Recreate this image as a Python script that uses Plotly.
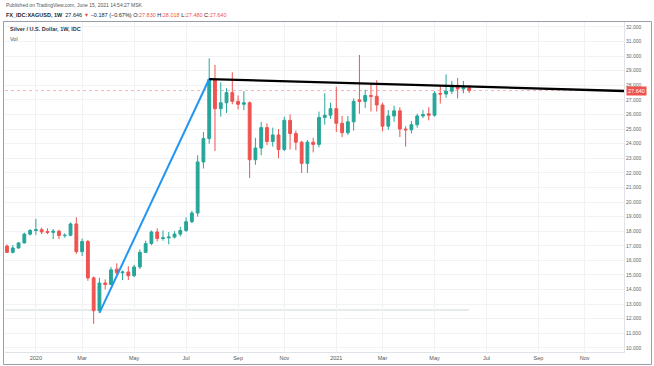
import plotly.graph_objects as go
import pandas as pd

# ---------------- data ----------------
week_start = "2019-12-02"
n_weeks = 81
opens = [16.98, 16.55, 16.85, 17.20, 17.80, 18.05, 18.10, 17.98, 17.92, 18.00, 17.70, 17.72, 18.50, 16.60, 17.30, 14.80,
         12.55, 14.45, 14.35, 15.40, 15.15, 15.20, 14.95, 15.55, 16.55, 17.15, 17.95, 17.50, 17.55, 17.60, 17.80, 18.05,
         18.65, 19.25, 22.75, 24.35, 28.40, 26.40, 26.80, 27.50, 26.90, 26.70, 26.80, 22.90, 23.70, 25.10, 24.15, 24.60,
         23.60, 25.60, 24.70, 24.10, 22.65, 24.10, 23.95, 25.80, 25.95, 26.40, 25.40, 24.75, 25.50, 27.00, 26.90, 27.30,
         27.25, 26.65, 25.20, 25.90, 26.25, 25.00, 24.95, 25.30, 25.90, 26.05, 25.95, 27.45, 27.40, 27.60, 28.00, 27.75,
         27.83]
highs = [17.10, 17.05, 17.25, 17.90, 18.15, 18.85, 18.25, 18.20, 18.15, 18.10, 17.85, 18.60, 18.95, 17.50, 17.40, 14.90,
         14.80, 14.70, 15.55, 15.80, 15.30, 15.60, 15.70, 16.75, 17.35, 18.05, 18.20, 18.05, 17.95, 18.00, 18.30, 18.95,
         19.40, 23.20, 24.80, 29.85, 29.40, 28.20, 27.80, 28.90, 27.30, 27.60, 26.90, 24.40, 25.50, 25.40, 25.10, 25.00,
         25.85, 26.00, 24.90, 24.20, 24.25, 24.40, 26.20, 27.45, 26.80, 27.90, 25.90, 25.90, 27.10, 30.08, 27.70, 28.15,
         28.35, 26.80, 26.30, 26.60, 26.50, 25.20, 25.55, 26.05, 26.30, 26.50, 27.60, 27.95, 28.75, 28.30, 28.50, 28.30,
         28.018]
lows = [16.50, 16.48, 16.80, 17.15, 17.70, 17.75, 17.80, 17.80, 17.45, 17.45, 17.55, 17.65, 16.45, 16.30, 14.60, 11.65,
        12.40, 14.00, 14.30, 15.00, 14.65, 14.65, 14.85, 15.40, 16.50, 17.05, 17.30, 17.35, 17.10, 17.50, 17.65, 17.95,
        18.55, 19.00, 22.30, 24.00, 23.50, 25.85, 26.10, 26.70, 26.35, 26.30, 21.65, 22.55, 23.20, 23.90, 23.80, 23.00,
        23.50, 23.60, 23.55, 22.00, 22.00, 23.40, 23.75, 25.30, 25.70, 24.80, 24.45, 24.60, 24.90, 26.05, 26.45, 26.20,
        26.20, 24.85, 24.95, 25.50, 24.45, 23.80, 24.70, 25.10, 25.75, 25.60, 25.85, 26.75, 27.15, 27.40, 27.10, 27.45,
        27.48]
closes = [16.55, 16.85, 17.20, 17.80, 18.05, 18.10, 17.95, 17.92, 18.00, 17.70, 17.72, 18.50, 16.60, 17.30, 14.80, 12.55,
          14.45, 14.35, 15.35, 15.15, 15.20, 14.95, 15.55, 16.55, 17.15, 17.95, 17.50, 17.55, 17.60, 17.80, 18.05, 18.65,
          19.25, 22.75, 24.35, 28.40, 26.40, 26.80, 27.50, 26.90, 26.70, 26.80, 22.90, 23.70, 25.10, 24.15, 24.60, 23.60,
          25.60, 24.70, 24.10, 22.65, 24.10, 23.95, 25.80, 25.95, 26.40, 25.40, 24.75, 25.50, 26.90, 26.90, 27.30, 27.25,
          26.65, 25.20, 25.90, 26.25, 25.00, 24.95, 25.30, 25.90, 26.00, 25.95, 27.45, 27.40, 27.60, 28.00, 27.75, 27.90,
          27.64]

# drawings (trend lines) and reference lines
blue_line_dates = ["2020-03-23", "2020-08-03"]
blue_line_prices = [12.40, 28.43]
black_line_dates = ["2020-08-03", "2021-12-18 14:00"]
black_line_prices = [28.43, 27.61]
low_level_price = 12.60
last_price = 27.64

tick_dates = ["2020-01-06", "2020-03-02", "2020-05-04", "2020-07-06", "2020-09-07", "2020-11-02",
              "2021-01-04", "2021-03-01", "2021-05-03", "2021-07-05", "2021-09-06", "2021-11-01"]
tick_text = ["2020", "Mar", "May", "Jul", "Sep", "Nov", "2021", "Mar", "May", "Jul", "Sep", "Nov"]
price_ticks = list(range(10, 33))

x_range = ["2019-11-29 14:00", "2021-12-18 14:00"]
y_range = [9.72, 32.34]

dates = pd.date_range(week_start, periods=n_weeks, freq="7D")

# ---------------- figure ----------------
W, H = 654, 366
ML, MR, MT, MB = 5, 30, 22, 14
PW, PH = W - ML - MR, H - MT - MB


def px(xp):
    return (xp - ML) / PW


def py(yp):
    return (H - MB - yp) / PH


GREEN = "#26a69a"
RED = "#ef5350"
FONT = "Liberation Sans"

fig = go.Figure()
fig.add_trace(go.Candlestick(
    x=dates, open=opens, high=highs, low=lows, close=closes,
    increasing=dict(line=dict(color=GREEN, width=1), fillcolor=GREEN),
    decreasing=dict(line=dict(color=RED, width=1), fillcolor=RED),
    whiskerwidth=0, showlegend=False, hoverinfo="skip"))

fig.add_trace(go.Scatter(x=blue_line_dates, y=blue_line_prices, mode="lines",
                         line=dict(color="#2196f3", width=2), showlegend=False, hoverinfo="skip"))
fig.add_trace(go.Scatter(x=black_line_dates, y=black_line_prices, mode="lines",
                         line=dict(color="#000000", width=2.3), showlegend=False, hoverinfo="skip"))

shapes = [
    # faint level line at the 2020 low area
    dict(type="line", xref="x", yref="y", x0=x_range[0], x1=str(dates[-1].date()),
         y0=low_level_price, y1=low_level_price, line=dict(color="rgba(130,160,150,0.4)", width=1), layer="below"),
    # last price line
    dict(type="line", xref="paper", yref="y", x0=0, x1=1, y0=last_price, y1=last_price,
         line=dict(color="rgba(239,83,80,0.45)", width=1, dash="dot"), layer="below"),
    # outer frame
    dict(type="rect", xref="paper", yref="paper", x0=px(3.5), x1=px(651.5), y0=py(364.5), y1=py(21.5),
         line=dict(color="#9a9ea6", width=1), fillcolor="rgba(0,0,0,0)"),
]

annotations = [
    dict(text="Published on TradingView.com, June 15, 2021 14:54:27 MSK", xref="paper", yref="paper",
         x=px(4), y=py(5.5), xanchor="left", yanchor="middle", showarrow=False,
         font=dict(family=FONT, size=5, color="#555555")),
    dict(text="<b>FX_IDC:XAGUSD, 1W</b>  27.646 <span style='color:#ef5350'>▼</span> −0.187 (−0.67%) "
              "O:<span style='color:#ef5350'>27.830</span> H:<span style='color:#ef5350'>28.018</span> "
              "L:<span style='color:#ef5350'>27.480</span> C:<span style='color:#ef5350'>27.640</span>",
         xref="paper", yref="paper", x=px(4), y=py(15), xanchor="left", yanchor="middle", showarrow=False,
         font=dict(family=FONT, size=5.5, color="#222222")),
    dict(text="<b>Silver / U.S. Dollar, 1W, IDC</b>", xref="paper", yref="paper",
         x=px(8), y=py(29), xanchor="left", yanchor="middle", showarrow=False,
         font=dict(family=FONT, size=5.5, color="#333333")),
    dict(text="Vol", xref="paper", yref="paper",
         x=px(8), y=py(38.5), xanchor="left", yanchor="middle", showarrow=False,
         font=dict(family=FONT, size=5.5, color="#555555")),
    dict(text="27.640", xref="paper", yref="y", x=px(626), y=last_price, xanchor="left", yanchor="middle",
         showarrow=False, bgcolor=RED, borderpad=1, font=dict(family=FONT, size=5.5, color="#ffffff")),
]

fig.update_layout(
    width=W, height=H,
    margin=dict(l=ML, r=MR, t=MT, b=MB),
    paper_bgcolor="white", plot_bgcolor="white",
    shapes=shapes, annotations=annotations,
    showlegend=False,
    xaxis=dict(type="date", range=x_range, rangeslider=dict(visible=False),
               tickmode="array", tickvals=tick_dates, ticktext=tick_text,
               showgrid=True, gridcolor="#f0f2f6", gridwidth=1, zeroline=False,
               showline=True, linecolor="#dfe2e8", linewidth=1,
               ticks="", ticklen=0,
               tickfont=dict(family=FONT, size=5.5, color="#555555")),
    yaxis=dict(side="right", range=y_range, tickmode="array", tickvals=price_ticks,
               ticktext=[f"{v:.3f}" for v in price_ticks],
               showgrid=True, gridcolor="#f0f2f6", gridwidth=1, zeroline=False,
               showline=True, linecolor="#dfe2e8", linewidth=1,
               ticks="", ticklen=0,
               tickfont=dict(family=FONT, size=5, color="#666666")),
)

fig.write_html("out.html", config={"displayModeBar": False},
               post_script="document.body.style.margin='0px';")
